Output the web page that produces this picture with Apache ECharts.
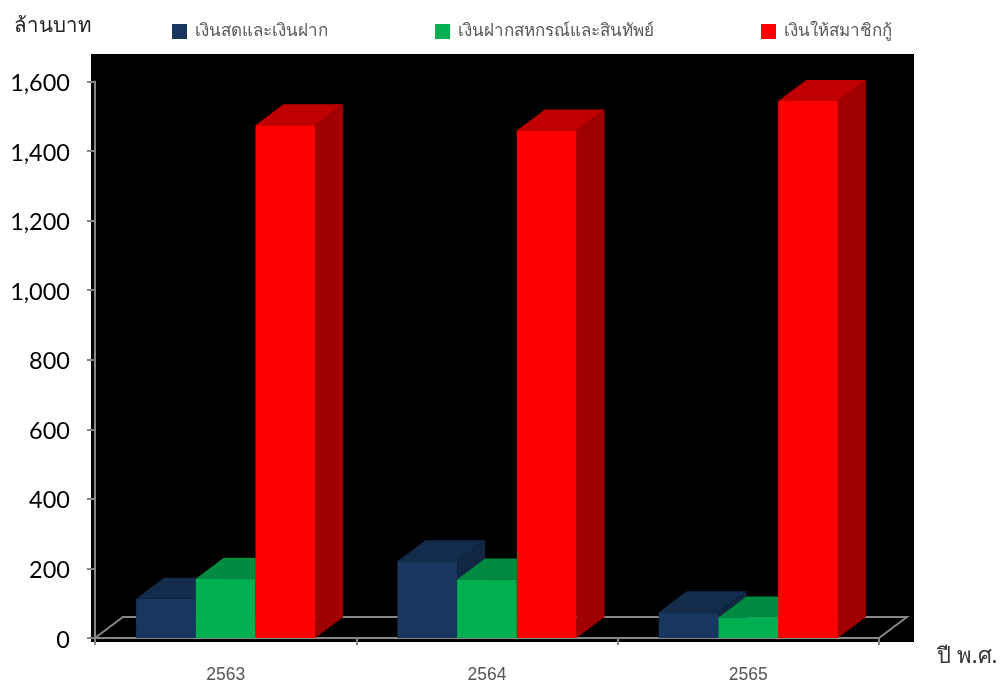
<!DOCTYPE html>
<html>
<head>
<meta charset="utf-8">
<title>chart</title>
<script src="https://cdn.jsdelivr.net/npm/echarts@6/dist/echarts.min.js"></script>
<style>
  html, body { margin: 0; padding: 0; background: #fff; }
  #main { width: 1004px; height: 684px; }
</style>
</head>
<body>
<div id="main"></div>
<script>
const years = ['2563', '2564', '2565']
const cash = [113, 221, 74]
const cooperative = [170, 168, 59]
const loans = [1474, 1459, 1544]
const cashName = 'เงินสดและเงินฝาก'
const cooperativeName = 'เงินฝากสหกรณ์และสินทัพย์'
const loansName = 'เงินให้สมาชิกกู้'

// 3d look, in pixels
const depthX = 28
const depthY = 21
const barShare = 0.2285

const thaiFont = '"Noto Sans", "DejaVu Sans", sans-serif'

function barItem(colors) {
  return function (params, api) {
    const base = api.coord([api.value(0), 0])
    const top = api.coord([api.value(0), api.value(1)])
    const w = api.size([1, 0])[0] * barShare
    const x0 = base[0] + (params.seriesIndex - 1.5) * w
    const x1 = x0 + w
    const y0 = base[1]
    const y1 = top[1]
    return {
      type: 'group',
      children: [
        {
          type: 'polygon',
          shape: { points: [[x1, y0], [x1 + depthX, y0 - depthY], [x1 + depthX, y1 - depthY], [x1, y1]] },
          style: { fill: colors[2] }
        },
        {
          type: 'polygon',
          shape: { points: [[x0, y1], [x0 + depthX, y1 - depthY], [x1 + depthX, y1 - depthY], [x1, y1]] },
          style: { fill: colors[1] }
        },
        {
          type: 'rect',
          shape: { x: x0, y: y1, width: w, height: y0 - y1 },
          style: { fill: colors[0] }
        }
      ]
    }
  }
}

function floorItem(params, api) {
  const cs = params.coordSys
  const yb = cs.y + cs.height
  const xr = cs.x + cs.width
  return {
    type: 'polyline',
    shape: { points: [[cs.x, yb], [cs.x + depthX, yb - depthY], [xr + depthX, yb - depthY], [xr, yb]] },
    style: { fill: null, stroke: '#868686', lineWidth: 2 }
  }
}

function barSeries(name, values, colors) {
  return {
    name: name,
    type: 'custom',
    renderItem: barItem(colors),
    itemStyle: { color: colors[0] },
    encode: { x: 0, y: 1 },
    data: values.map((v, i) => [i, v]),
    z: 3
  }
}

const chart = echarts.init(document.getElementById('main'))
chart.setOption({
  animation: false,
  backgroundColor: '#fff',
  graphic: [{
    type: 'rect',
    z: -10,
    silent: true,
    shape: { x: 91, y: 54, width: 823, height: 588 },
    style: { fill: '#000' }
  }],
  legend: {
    left: 172,
    top: 23,
    padding: 0,
    itemGap: 107,
    itemWidth: 15,
    itemHeight: 15,
    icon: 'rect',
    data: [cashName, cooperativeName, loansName],
    textStyle: { fontFamily: thaiFont, fontSize: 17, color: '#595959', padding: [0, 0, 0, 3] }
  },
  grid: { left: 95, right: 125, top: 81.5, bottom: 45.5 },
  xAxis: {
    type: 'category',
    data: years,
    name: 'ปี พ.ศ.',
    nameLocation: 'end',
    nameGap: 58,
    nameTextStyle: { fontFamily: thaiFont, fontSize: 22, color: '#333', verticalAlign: 'top', padding: [8, 0, 0, 0] },
    axisLine: { lineStyle: { color: '#868686', width: 2 } },
    axisTick: { show: true, length: 7, lineStyle: { color: '#868686', width: 2 } },
    axisLabel: { fontFamily: '"Liberation Sans", Arial, sans-serif', fontSize: 17.5, color: '#555', margin: 28 }
  },
  yAxis: {
    type: 'value',
    min: 0,
    max: 1600,
    interval: 200,
    name: 'ล้านบาท',
    nameLocation: 'end',
    nameGap: 45,
    nameTextStyle: { fontFamily: thaiFont, fontSize: 20.5, color: '#222', align: 'left', padding: [0, 0, 0, -81] },
    axisLine: { show: true, lineStyle: { color: '#868686', width: 2 } },
    axisTick: { show: true, length: 8, lineStyle: { color: '#868686', width: 2 } },
    splitLine: { show: false },
    // small lineHeight with top align pushes the numbers just under the tick
    axisLabel: { fontFamily: 'Lato, "Open Sans", sans-serif', fontSize: 23.5, color: '#000', margin: 25, verticalAlign: 'top', lineHeight: 4 }
  },
  series: [
    barSeries(cashName, cash, ['#17375E', '#142C4B', '#122743']),
    barSeries(cooperativeName, cooperative, ['#00B050', '#008C40', '#007A38']),
    barSeries(loansName, loans, ['#FF0000', '#C00000', '#A00000']),
    {
      name: 'floor',
      type: 'custom',
      renderItem: floorItem,
      data: [[0, 0]],
      encode: { x: 0, y: 1 },
      silent: true,
      z: 1
    }
  ]
})
</script>
</body>
</html>
